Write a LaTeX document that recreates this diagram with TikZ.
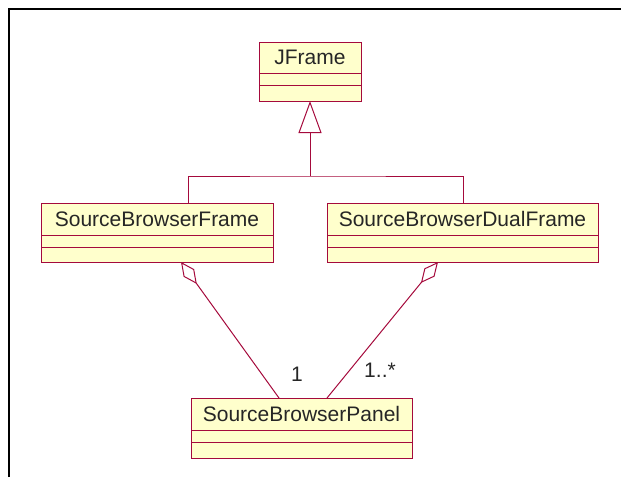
\documentclass[tikz,border=0pt]{standalone}
\usepackage{fontspec}
\setmainfont{Liberation Sans}
\usetikzlibrary{positioning,arrows.meta}
\definecolor{borde}{RGB}{165,10,60}
\definecolor{relleno}{RGB}{255,255,204}
\begin{document}
\begin{tikzpicture}[x=1pt, y=-1pt, line width=1pt,
    clase/.style={draw=borde, fill=relleno, rectangle, inner sep=0pt, outer sep=0pt, anchor=north west,
        font=\fontsize{21}{25}\selectfont, text=black!85},
    compartimento/.style={draw=borde, fill=relleno, rectangle, inner sep=0pt, outer sep=0pt, below=0pt of #1},
    enlace/.style={draw=borde}]

    % Fijamos el marco de la imagen
    \useasboundingbox (0,0) rectangle (621,477);
    \draw[line width=2pt] (9,477) -- (9,9) -- (621,9);

    % Dibujamos las clases
    \node[clase, minimum width=102pt, minimum height=31pt] (jframe) at (259,42) {JFrame};
    \node[compartimento=jframe, minimum width=102pt, minimum height=12pt] (jframe-atr) {};
    \node[compartimento=jframe-atr, minimum width=102pt, minimum height=16pt] (jframe-op) {};

    \node[clase, minimum width=232pt, minimum height=32pt] (sbf) at (41,203) {SourceBrowserFrame};
    \node[compartimento=sbf, minimum width=232pt, minimum height=12pt] (sbf-atr) {};
    \node[compartimento=sbf-atr, minimum width=232pt, minimum height=15pt] (sbf-op) {};

    \node[clase, minimum width=271pt, minimum height=32pt] (sbdf) at (327,203) {SourceBrowserDualFrame};
    \node[compartimento=sbdf, minimum width=271pt, minimum height=12pt] (sbdf-atr) {};
    \node[compartimento=sbdf-atr, minimum width=271pt, minimum height=15pt] (sbdf-op) {};

    \node[clase, minimum width=221pt, minimum height=32pt] (sbp) at (191,398) {SourceBrowserPanel};
    \node[compartimento=sbp, minimum width=221pt, minimum height=12pt] (sbp-atr) {};
    \node[compartimento=sbp-atr, minimum width=221pt, minimum height=16pt] (sbp-op) {};

    % Herencia hacia JFrame
    \coordinate (union) at (310,176);
    \coordinate (ganchoA) at (188,203);
    \coordinate (ganchoB) at (463,203);
    \path[enlace] (ganchoA) |- (union) -| (ganchoB);
    \path[enlace, -{Triangle[open, length=32pt, width=23pt]}] (union) -- (jframe-op.south);

    % Agregaciones con el panel
    \coordinate (rombA) at (181,262);
    \coordinate (rombB) at (438,262);
    \coordinate (llegaA) at (279,398);
    \coordinate (llegaB) at (327,398);
    \path[enlace, {Diamond[open, length=27pt, width=13pt]}-] (rombA) -- (llegaA);
    \path[enlace, {Diamond[open, length=27pt, width=13pt]}-] (rombB) -- (llegaB);

    % Multiplicidades
    \node[font=\fontsize{21}{25}\selectfont, text=black!85] (multA) at (297,374) {1};
    \node[font=\fontsize{21}{25}\selectfont, text=black!85] (multB) at (380,370) {1..*};

\end{tikzpicture}
\end{document}
